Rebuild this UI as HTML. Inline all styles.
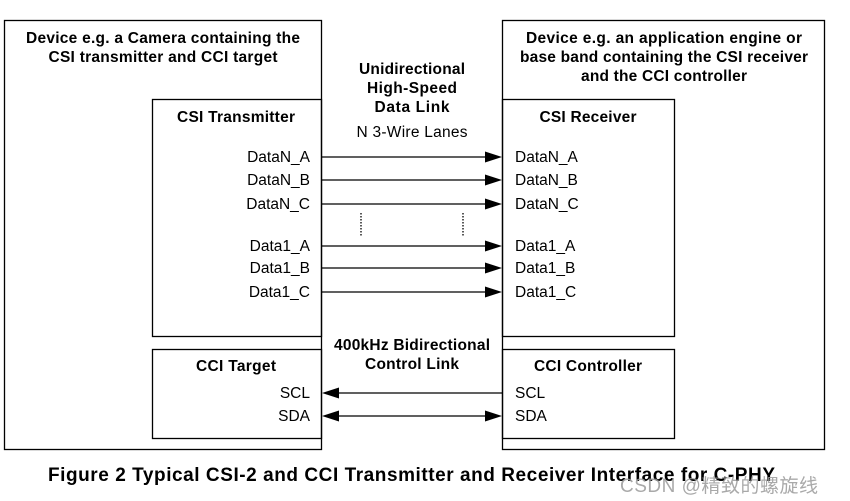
<!DOCTYPE html>
<html><head><meta charset="utf-8"><style>
body{margin:0;background:#fff}
svg{display:block}
text{font-family:"Liberation Sans",Arial,sans-serif;fill:#000}
.b{font-weight:bold;font-size:15.5px}
.r{font-size:15.5px}
</style></head><body>
<svg width="850" height="501" viewBox="0 0 850 501" xmlns="http://www.w3.org/2000/svg">
<g fill="none" stroke="#000" stroke-width="1.3">
<rect x="4.5" y="20.5" width="317" height="429"/>
<rect x="152.5" y="99.5" width="169" height="237"/>
<rect x="152.5" y="349.5" width="169" height="89"/>
<rect x="502.5" y="20.5" width="322" height="429"/>
<rect x="502.5" y="99.5" width="172" height="237"/>
<rect x="502.5" y="349.5" width="172" height="89"/>
<g stroke-width="1.2">
<line x1="322" y1="157" x2="486" y2="157"/>
<line x1="322" y1="180" x2="486" y2="180"/>
<line x1="322" y1="204" x2="486" y2="204"/>
<line x1="322" y1="246" x2="486" y2="246"/>
<line x1="322" y1="268" x2="486" y2="268"/>
<line x1="322" y1="292" x2="486" y2="292"/>
<line x1="338" y1="393" x2="502" y2="393"/>
<line x1="338" y1="416" x2="486" y2="416"/>
</g>
<line x1="361" y1="213" x2="361" y2="236" stroke-dasharray="1.5,1.5"/>
<line x1="463" y1="213" x2="463" y2="236" stroke-dasharray="1.5,1.5"/>
</g>
<g fill="#000">
<polygon points="502,157 485,151.5 485,162.5"/>
<polygon points="502,180 485,174.5 485,185.5"/>
<polygon points="502,204 485,198.5 485,209.5"/>
<polygon points="502,246 485,240.5 485,251.5"/>
<polygon points="502,268 485,262.5 485,273.5"/>
<polygon points="502,292 485,286.5 485,297.5"/>
<polygon points="322,393 339,387.5 339,398.5"/>
<polygon points="322,416 339,410.5 339,421.5"/>
<polygon points="502,416 485,410.5 485,421.5"/>
</g>
<g class="b" text-anchor="middle">
<text x="163" y="43" textLength="274">Device e.g. a Camera containing the</text>
<text x="163" y="62" textLength="229">CSI transmitter and CCI target</text>
<text x="236" y="122" textLength="118">CSI Transmitter</text>
<text x="236" y="371" textLength="80">CCI Target</text>
<text x="412" y="74" textLength="106">Unidirectional</text>
<text x="412" y="93" textLength="90">High-Speed</text>
<text x="412" y="112" textLength="75">Data  Link</text>
<text x="412" y="350" textLength="156">400kHz Bidirectional</text>
<text x="412" y="369" textLength="94">Control Link</text>
<text x="664" y="43" textLength="276">Device e.g. an application engine or</text>
<text x="664" y="62" textLength="288">base band containing the CSI receiver</text>
<text x="664" y="81" textLength="166">and the CCI controller</text>
<text x="588" y="122" textLength="97">CSI Receiver</text>
<text x="588" y="371" textLength="108">CCI Controller</text>
</g>
<g class="r">
<text x="412" y="137" text-anchor="middle" textLength="111">N 3-Wire Lanes</text>
<g text-anchor="end">
<text x="310" y="162">DataN_A</text>
<text x="310" y="185">DataN_B</text>
<text x="310" y="209">DataN_C</text>
<text x="310" y="251">Data1_A</text>
<text x="310" y="273">Data1_B</text>
<text x="310" y="297">Data1_C</text>
<text x="310" y="398">SCL</text>
<text x="310" y="421">SDA</text>
</g>
<text x="515" y="162">DataN_A</text>
<text x="515" y="185">DataN_B</text>
<text x="515" y="209">DataN_C</text>
<text x="515" y="251">Data1_A</text>
<text x="515" y="273">Data1_B</text>
<text x="515" y="297">Data1_C</text>
<text x="515" y="398">SCL</text>
<text x="515" y="421">SDA</text>
</g>
<text x="48" y="481" textLength="727" style="font-weight:bold;font-size:19px">Figure 2 Typical CSI-2 and CCI Transmitter and Receiver Interface for C-PHY</text>
<text x="620" y="492" textLength="198" style="font-family:'Liberation Sans','Noto Sans CJK SC',sans-serif;font-size:19px;fill:#9a9a9a;fill-opacity:0.85">CSDN @精致的螺旋线</text>
</svg>
</body></html>
